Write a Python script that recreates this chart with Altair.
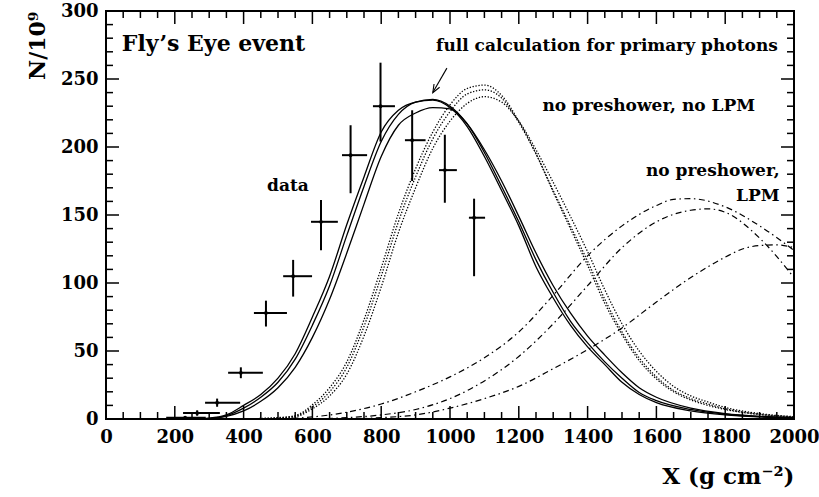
import altair as alt
import pandas as pd

FONT = "DejaVu Serif"
W, H = 688, 408

# ---- Fly's Eye measured shower profile (depth in g/cm^2, size in units of 1e9) ----
obs_depth = [230, 265, 323, 392, 465, 544, 625, 711, 798, 890, 985, 1070]
obs_size = [1, 4.4, 12, 34, 78, 105, 145, 194, 230, 205, 183, 148]
obs_depth_lo = [175, 224, 288, 355, 430, 515, 596, 686, 776, 869, 968, 1055]
obs_depth_hi = [290, 331, 390, 456, 526, 599, 674, 759, 840, 929, 1020, 1102]
obs_size_lo = [0, 2.4, 9, 30, 68, 90, 124, 166, 204, 175, 159, 105]
obs_size_hi = [2, 6.4, 15, 38, 87, 117, 161, 216, 262, 227, 209, 162]

# ---- full calculation for primary photons (three showers) ----
full_depth = [200, 250, 300, 350, 400, 450, 500, 550, 600, 650, 700, 750, 800,
              850, 900, 950, 1000, 1050, 1100, 1150, 1200, 1250, 1300, 1350,
              1400, 1450, 1500, 1550, 1600, 1700, 1800, 1900, 2000]
full_1 = [0, 0.2, 0.7, 3, 10, 18, 30, 48, 75, 105, 143, 178, 211, 227, 233, 234.5,
          229, 215, 193, 168, 142, 112, 89, 69, 53, 40, 27, 18, 12, 6, 3, 1.5, 0.7]
full_2 = [0, 0.1, 0.5, 2.5, 8, 16, 27, 44, 69, 98, 135, 171, 204, 224, 233, 235,
          230, 217, 196, 171, 145, 117, 93, 72, 56, 42, 30, 19.5, 13.5, 7, 3.5, 1.7, 0.8]
full_3 = [0, 0, 0.3, 2, 6, 13, 23, 38, 60, 88, 122, 158, 193, 216, 225, 229,
          228, 217, 198, 175, 149, 122, 98, 78, 61, 47, 34, 23, 16, 8, 4, 2, 1]

# ---- no preshower, no LPM ----
nolpm_depth = [400, 450, 500, 550, 600, 650, 700, 750, 800, 850, 900, 950, 1000,
               1050, 1100, 1150, 1200, 1250, 1300, 1350, 1400, 1450, 1500, 1550,
               1600, 1650, 1700, 1750, 1800, 1900, 2000]
nolpm_1 = [0, 0.4, 1, 2.5, 10.5, 23, 42, 73, 111, 151, 184, 211, 231, 243, 245.5,
           238, 219, 195, 167, 140, 113, 85, 62, 43, 29.5, 20, 14, 10, 7, 3.2, 1.4]
nolpm_2 = [0, 0.3, 0.8, 2, 9, 20, 38, 68, 105, 145, 178, 206, 226, 239, 242,
           236, 218, 195, 168, 142, 116, 88, 64, 45, 31, 21, 15, 11, 7.5, 3.5, 1.5]
nolpm_3 = [0, 0.2, 0.6, 1.6, 7.5, 17, 33, 61, 97, 137, 170, 199, 219, 232, 237,
           233, 219, 198, 174, 149, 123, 95, 70, 50, 35, 24, 17, 12.5, 8.5, 4, 1.7]

# ---- no preshower, LPM ----
lpm_a_depth = [500, 600, 700, 800, 900, 1000, 1100, 1200, 1300, 1400, 1500, 1600,
               1650, 1700, 1800, 1900, 2000]
lpm_a = [0, 1.5, 5, 11, 20, 31, 45, 64, 91, 120, 142, 157, 161.5, 162, 156, 142, 124]
lpm_b_depth = [600, 700, 800, 900, 1000, 1100, 1200, 1300, 1400, 1500, 1600, 1700,
               1750, 1800, 1900, 2000]
lpm_b = [0, 1, 3, 7, 15, 28, 46, 70, 98, 126, 145, 153.5, 154.5, 152, 133, 104]
lpm_c_depth = [700, 800, 900, 1000, 1100, 1200, 1300, 1400, 1500, 1600, 1700, 1800,
               1850, 1900, 1950, 2000]
lpm_c = [0, 1, 3, 8, 15, 24, 37, 51, 67, 86, 104, 119, 125, 127.5, 128, 126]

# ---- axis ticks ----
x_labels = list(range(0, 2001, 200))
x_minor = [v for v in range(0, 2001, 50) if v % 200]
y_labels = list(range(0, 301, 50))
y_minor = [v for v in range(0, 301, 10) if v % 50]

# ---- arrow pointing at the full calculation ----
arrow_depth = [991, 950]
arrow_size = [258, 240]

xscale = alt.Scale(domain=[0, 2000], nice=False, zero=False)
yscale = alt.Scale(domain=[0, 300], nice=False, zero=False)

x_axis = alt.Axis(
    values=x_labels, format="d", labelFont=FONT, labelFontSize=18,
    labelFontWeight="bold", labelColor="black", labelPadding=9,
    labelFlush=False, labelOverlap=False, ticks=False, tickSize=0,
    domain=False, grid=False,
    title="X (g cm⁻²)", titleFont=FONT, titleFontSize=23, titleFontWeight="bold",
    titleColor="black", titleX=W, titleY=64, titleAlign="right",
    titleBaseline="alphabetic",
)
y_axis = alt.Axis(
    values=y_labels, format="d", labelFont=FONT, labelFontSize=18,
    labelFontWeight="bold", labelColor="black", labelPadding=8,
    labelFlush=False, labelOverlap=False, ticks=False, tickSize=0,
    domain=False, grid=False,
    title="N/10⁹", titleFont=FONT, titleFontSize=22, titleFontWeight="bold",
    titleColor="black", titleAngle=270, titleX=-62, titleY=0,
    titleAlign="right", titleBaseline="alphabetic",
)


def X(field="depth"):
    return alt.X(f"{field}:Q", scale=xscale, axis=x_axis)


def Y(field="size"):
    return alt.Y(f"{field}:Q", scale=yscale, axis=y_axis)


def curves(groups):
    frames = [pd.DataFrame({"depth": d, "size": n, "curve": name})
              for name, d, n in groups]
    return pd.concat(frames, ignore_index=True)


full_df = curves([("f1", full_depth, full_1), ("f2", full_depth, full_2),
                  ("f3", full_depth, full_3)])
nolpm_df = curves([("n1", nolpm_depth, nolpm_1), ("n2", nolpm_depth, nolpm_2),
                   ("n3", nolpm_depth, nolpm_3)])
lpm_df = curves([("a", lpm_a_depth, lpm_a), ("b", lpm_b_depth, lpm_b),
                 ("c", lpm_c_depth, lpm_c)])

full_layer = alt.Chart(full_df).mark_line(
    color="black", strokeWidth=1.3, interpolate="monotone"
).encode(x=X(), y=Y(), detail="curve:N", order="depth:Q")

nolpm_layer = alt.Chart(nolpm_df).mark_line(
    color="black", strokeWidth=1.3, strokeDash=[1.3, 1.7], interpolate="monotone"
).encode(x=X(), y=Y(), detail="curve:N", order="depth:Q")

lpm_layer = alt.Chart(lpm_df).mark_line(
    color="black", strokeWidth=1.2, strokeDash=[6, 3.5, 1.5, 3.5],
    interpolate="monotone"
).encode(x=X(), y=Y(), detail="curve:N", order="depth:Q")

obs_df = pd.DataFrame({
    "depth": obs_depth, "size": obs_size,
    "dlo": obs_depth_lo, "dhi": obs_depth_hi,
    "slo": obs_size_lo, "shi": obs_size_hi,
})
obs_h = alt.Chart(obs_df).mark_rule(color="black", strokeWidth=2).encode(
    x=X("dlo"), x2="dhi:Q", y=Y())
obs_v = alt.Chart(obs_df).mark_rule(color="black", strokeWidth=2).encode(
    x=X(), y=Y("slo"), y2="shi:Q")
obs_pt = alt.Chart(obs_df).mark_point(
    color="black", filled=True, size=14, opacity=1).encode(x=X(), y=Y())

arrow_df = pd.DataFrame({"depth": arrow_depth, "size": arrow_size})
arrow_line = alt.Chart(arrow_df).mark_line(color="black", strokeWidth=1.1).encode(
    x=X(), y=Y())
arrow_head = alt.Chart(arrow_df.tail(1)).mark_point(
    shape="M -0.4 -1 L 0 0 L 0.4 -1", filled=False, size=260, angle=30,
    color="black", strokeWidth=1.1, opacity=1
).encode(x=X(), y=Y())


def text_layer(rows, align, size):
    df = pd.DataFrame(rows, columns=["depth", "size", "label"])
    return alt.Chart(df).mark_text(
        align=align, baseline="middle", font=FONT, fontSize=size,
        fontWeight="bold", color="black"
    ).encode(x=X(), y=Y(), text="label:N")


title_txt = text_layer([(46, 276, "Fly’s Eye event")], "left", 22)
right_txt = text_layer([
    (1953, 274, "full calculation for primary photons"),
    (1887, 230, "no preshower, no LPM"),
    (1958, 182, "no preshower,"),
    (1958, 164, "LPM"),
], "right", 17)
data_txt = text_layer([(529, 171, "data")], "center", 17)


def tick_rules(values, side, length):
    df = pd.DataFrame({"v": values})
    mark = alt.Chart(df).mark_rule(color="black", strokeWidth=1.5)
    if side == "bottom":
        return mark.encode(x=X("v"), y=alt.value(H), y2=alt.value(H - length))
    if side == "top":
        return mark.encode(x=X("v"), y=alt.value(0), y2=alt.value(length))
    if side == "left":
        return mark.encode(y=Y("v"), x=alt.value(0), x2=alt.value(length))
    return mark.encode(y=Y("v"), x=alt.value(W), x2=alt.value(W - length))


ticks = []
for side in ("bottom", "top"):
    ticks.append(tick_rules(x_labels, side, 13))
    ticks.append(tick_rules(x_minor, side, 7))
for side in ("left", "right"):
    ticks.append(tick_rules(y_labels, side, 13))
    ticks.append(tick_rules(y_minor, side, 7))

chart = alt.layer(
    full_layer, nolpm_layer, lpm_layer, obs_h, obs_v, obs_pt,
    arrow_line, arrow_head, title_txt, right_txt, data_txt, *ticks
).properties(
    width=W, height=H,
    autosize=alt.AutoSizeParams(type="none"),
    padding={"left": 106, "top": 11, "right": 25, "bottom": 78},
    background="white",
).configure_view(
    stroke="black", strokeWidth=2
)

chart.save("out.html", embed_options={"renderer": "svg", "actions": False})
